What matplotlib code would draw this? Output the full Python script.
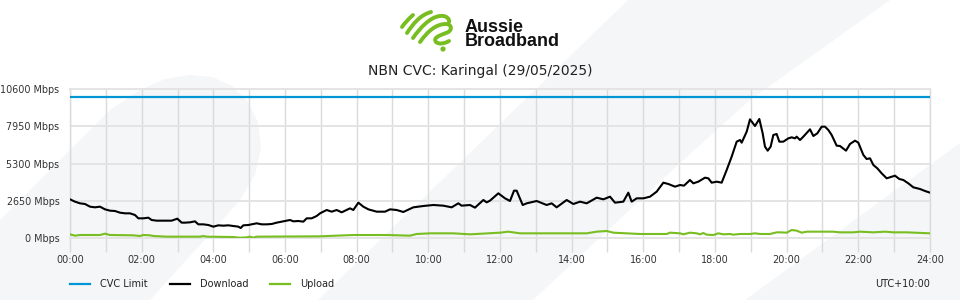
import matplotlib
matplotlib.use('Agg')
import matplotlib.pyplot as plt
from matplotlib.patches import Polygon, PathPatch, Circle
from matplotlib.path import Path
from matplotlib.transforms import Affine2D
from matplotlib.lines import Line2D

# ---------------- data ----------------
title = "NBN CVC: Karingal (29/05/2025)"
y_ticks = [0, 2650, 5300, 7950, 10600]
y_tick_labels = ["0 Mbps", "2650 Mbps", "5300 Mbps", "7950 Mbps", "10600 Mbps"]
x_major = list(range(0, 25, 2))
x_major_labels = [f"{h:02d}:00" for h in x_major]
x_minor = list(range(1, 24, 2))
legend_labels = ["CVC Limit", "Download", "Upload"]
timezone_label = "UTC+10:00"

cvc_limit = 10000

download_hours = [
    0.000, 0.140, 0.279, 0.419, 0.558, 0.698, 0.837, 0.977, 1.116, 1.256,
    1.395, 1.535, 1.674, 1.814, 1.907, 2.047, 2.186, 2.279, 2.419, 2.558,
    2.698, 2.837, 2.995, 3.116, 3.209, 3.349, 3.488, 3.581, 3.721, 3.860,
    4.000, 4.140, 4.279, 4.419, 4.558, 4.698, 4.763, 4.837, 4.977, 5.116,
    5.209, 5.349, 5.488, 5.628, 5.767, 5.907, 6.047, 6.140, 6.233, 6.372,
    6.512, 6.605, 6.744, 6.884, 6.977, 7.163, 7.302, 7.442, 7.581, 7.814,
    7.907, 8.047, 8.186, 8.326, 8.558, 8.791, 8.930, 9.116, 9.302, 9.581,
    9.860, 10.140, 10.419, 10.651, 10.837, 10.930, 11.163, 11.302, 11.535, 11.628,
    11.721, 11.953, 12.140, 12.279, 12.391, 12.465, 12.633, 12.744, 13.023, 13.302,
    13.442, 13.581, 13.860, 14.047, 14.233, 14.419, 14.698, 14.884, 15.070, 15.209,
    15.442, 15.581, 15.674, 15.814, 16.000, 16.186, 16.372, 16.558, 16.698, 16.884,
    17.023, 17.135, 17.302, 17.395, 17.535, 17.721, 17.814, 17.907, 18.047, 18.186,
    18.326, 18.465, 18.605, 18.698, 18.744, 18.884, 18.977, 19.116, 19.237, 19.330,
    19.395, 19.470, 19.553, 19.628, 19.721, 19.795, 19.907, 20.047, 20.140, 20.233,
    20.279, 20.372, 20.465, 20.651, 20.744, 20.856, 20.977, 21.070, 21.163, 21.256,
    21.395, 21.488, 21.656, 21.767, 21.907, 22.000, 22.140, 22.233, 22.326, 22.419,
    22.530, 22.651, 22.791, 22.930, 23.023, 23.144, 23.256, 23.395, 23.535, 23.721,
    23.860, 24.000,
]
download_mbps = [
    2751, 2585, 2466, 2419, 2229, 2182, 2229, 2039, 1944, 1921,
    1802, 1755, 1755, 1636, 1399, 1399, 1446, 1281, 1233, 1233,
    1233, 1233, 1375, 1091, 1091, 1115, 1186, 972, 972, 925,
    806, 901, 877, 901, 854, 806, 711, 901, 925, 996,
    1044, 972, 972, 996, 1091, 1162, 1233, 1281, 1186, 1209,
    1162, 1399, 1399, 1565, 1755, 1992, 1873, 1992, 1826, 2111,
    1992, 2514, 2229, 2039, 1873, 1873, 2039, 1992, 1850, 2182,
    2276, 2348, 2300, 2182, 2466, 2300, 2348, 2158, 2703, 2538,
    2656, 3178, 2822, 2632, 3367, 3367, 2348, 2466, 2632, 2348,
    2466, 2182, 2703, 2419, 2585, 2466, 2869, 2751, 2940, 2514,
    2585, 3225, 2585, 2822, 2822, 2940, 3296, 3936, 3842, 3652,
    3770, 3723, 4126, 3889, 4007, 4292, 4245, 3936, 4007, 3936,
    4838, 5786, 6853, 6972, 6782, 7564, 8442, 7968, 8466, 7446,
    6497, 6213, 6497, 7327, 7399, 6853, 6853, 7090, 7162, 7090,
    7209, 6972, 7209, 7731, 7256, 7446, 7920, 7920, 7683, 7327,
    6568, 6545, 6213, 6687, 6924, 6782, 5905, 5620, 5668, 5193,
    4956, 4601, 4245, 4363, 4434, 4197, 4126, 3889, 3605, 3486,
    3344, 3225,
]

upload_hours = [
    0.000, 0.140, 0.279, 0.837, 0.977, 1.116, 1.767, 1.953, 2.047, 2.233,
    2.326, 2.698, 3.628, 3.721, 3.814, 4.558, 4.744, 4.930, 5.023, 5.116,
    5.209, 6.977, 7.907, 8.837, 9.488, 9.674, 10.047, 10.698, 11.163, 12.000,
    12.233, 12.558, 13.488, 14.419, 14.698, 14.977, 15.163, 15.907, 16.651, 16.744,
    17.023, 17.116, 17.302, 17.488, 17.581, 17.674, 17.767, 17.953, 18.093, 18.233,
    18.419, 18.512, 18.698, 18.977, 19.116, 19.256, 19.535, 19.721, 19.814, 20.000,
    20.140, 20.279, 20.419, 20.558, 20.930, 21.302, 21.488, 21.860, 22.047, 22.419,
    22.744, 22.977, 23.349, 24.000,
]
upload_mbps = [
    260, 166, 213, 213, 308, 213, 190, 142, 213, 190,
    142, 95, 95, 142, 95, 71, 20, 47, 95, 24,
    95, 120, 213, 213, 166, 285, 332, 332, 261, 379,
    450, 332, 332, 332, 450, 498, 379, 285, 285, 379,
    332, 261, 379, 332, 261, 355, 237, 213, 332, 261,
    285, 237, 285, 285, 332, 285, 285, 403, 403, 379,
    569, 521, 379, 450, 450, 450, 403, 403, 450, 403,
    450, 403, 403, 332,
]

# ---------------- style ----------------
W, H = 960, 300
BG = "#f5f6f8"
BLUE = "#0096d6"
GREEN = "#78be20"
TXT = "#333333"

fig = plt.figure(figsize=(W / 100, H / 100), dpi=100, facecolor="white")
px = Affine2D().scale(1 / W, -1 / H).translate(0, 1) + fig.transFigure

# background decoration
blob = [(0, 300), (0, 220), (60, 160), (110, 110), (140, 90), (165, 79), (190, 75),
        (212, 77), (232, 86), (248, 102), (258, 122), (261, 148), (255, 175),
        (240, 200), (200, 245), (150, 300)]
band = [(628, 0), (890, 0), (750, 100), (680, 163), (533, 300), (318, 300)]
corner = [(745, 300), (960, 300), (960, 143)]
for pts in (blob, band, corner):
    fig.add_artist(Polygon(pts, closed=True, transform=px, facecolor=BG,
                           edgecolor="none", zorder=-5))

# logo
C4, M, Q = Path.CURVE4, Path.MOVETO, Path.CURVE3
strokes = [
    ([(402, 27), (406, 21), (413, 15)], [M, Q, Q]),
    ([(407, 33), (413, 24), (420, 15), (431, 12)], [M, C4, C4, C4]),
    ([(413, 38), (420, 28), (430, 17), (440, 16), (446, 15), (450, 19), (449, 22)],
     [M, C4, C4, C4, C4, C4, C4]),
    ([(420, 42), (428, 31), (436, 24), (446, 24), (452, 24), (453, 31), (446, 33),
      (438, 36), (433, 38), (436, 42), (439, 45), (446, 43), (449, 41)],
     [M, C4, C4, C4, C4, C4, C4, C4, C4, C4, C4, C4, C4]),
]
for verts, codes in strokes:
    fig.add_artist(PathPatch(Path(verts, codes), transform=px, fill=False,
                             edgecolor=GREEN, lw=2.8, capstyle="round",
                             joinstyle="round", zorder=2))
fig.add_artist(Circle((443, 49), 2.6, transform=px, facecolor=GREEN,
                      edgecolor="none", zorder=2))
fig.text(465 / W, 1 - 46.5 / H, "Aussie\nBroadband", fontsize=13,
         fontweight="bold", family="Liberation Sans", color="#111111",
         ha="left", va="baseline", multialignment="left", linespacing=0.78)

fig.text(480 / W, 1 - 75.5 / H, title, fontsize=10, color="#222222",
         ha="center", va="baseline")

# axes
ax = fig.add_axes([70 / W, (H - 238) / H, 860 / W, (238 - 89) / H])
ax.set_facecolor("none")
ax.set_xlim(0, 24)
ax.set_ylim(0, 10600)
ax.set_yticks(y_ticks)
ax.set_yticklabels(y_tick_labels)
ax.set_xticks(x_major)
ax.set_xticklabels(x_major_labels)
ax.set_xticks(x_minor, minor=True)
ax.tick_params(axis="x", which="both", length=10, width=1.0, color="#dadada",
               direction="out", pad=2, labelsize=7, labelcolor=TXT)
ax.tick_params(axis="y", length=0, pad=7.5, labelsize=6.9, labelcolor=TXT)
ax.grid(axis="x", which="both", color="#dadada", lw=1.0)
ax.grid(axis="y", which="major", color="#e4e4e4", lw=1.4)
ax.set_axisbelow(True)
for s in ("left", "right"):
    ax.spines[s].set_color("#dadada")
    ax.spines[s].set_linewidth(1.0)
for s in ("top", "bottom"):
    ax.spines[s].set_color("#e4e4e4")
    ax.spines[s].set_linewidth(1.4)

ax.axhline(cvc_limit, color=BLUE, lw=1.6, zorder=3)
ax.plot(download_hours, download_mbps, color="black", lw=1.5,
        solid_joinstyle="round", zorder=4)
ax.plot(upload_hours, upload_mbps, color=GREEN, lw=1.5,
        solid_joinstyle="round", zorder=4)

# legend (manual, at bottom)
for i, (lab, col) in enumerate(zip(legend_labels, [BLUE, "black", GREEN])):
    x0 = 70 + 100 * i
    fig.add_artist(Line2D([x0, x0 + 20], [284, 284], transform=px, color=col, lw=1.6))
    fig.text((x0 + 30) / W, 1 - 284 / H, lab, fontsize=7, color="#222222",
             ha="left", va="center")
fig.text(930 / W, 1 - 284 / H, timezone_label, fontsize=7, color="#222222",
         ha="right", va="center")

fig.savefig("out.png", dpi=100, facecolor="white")
